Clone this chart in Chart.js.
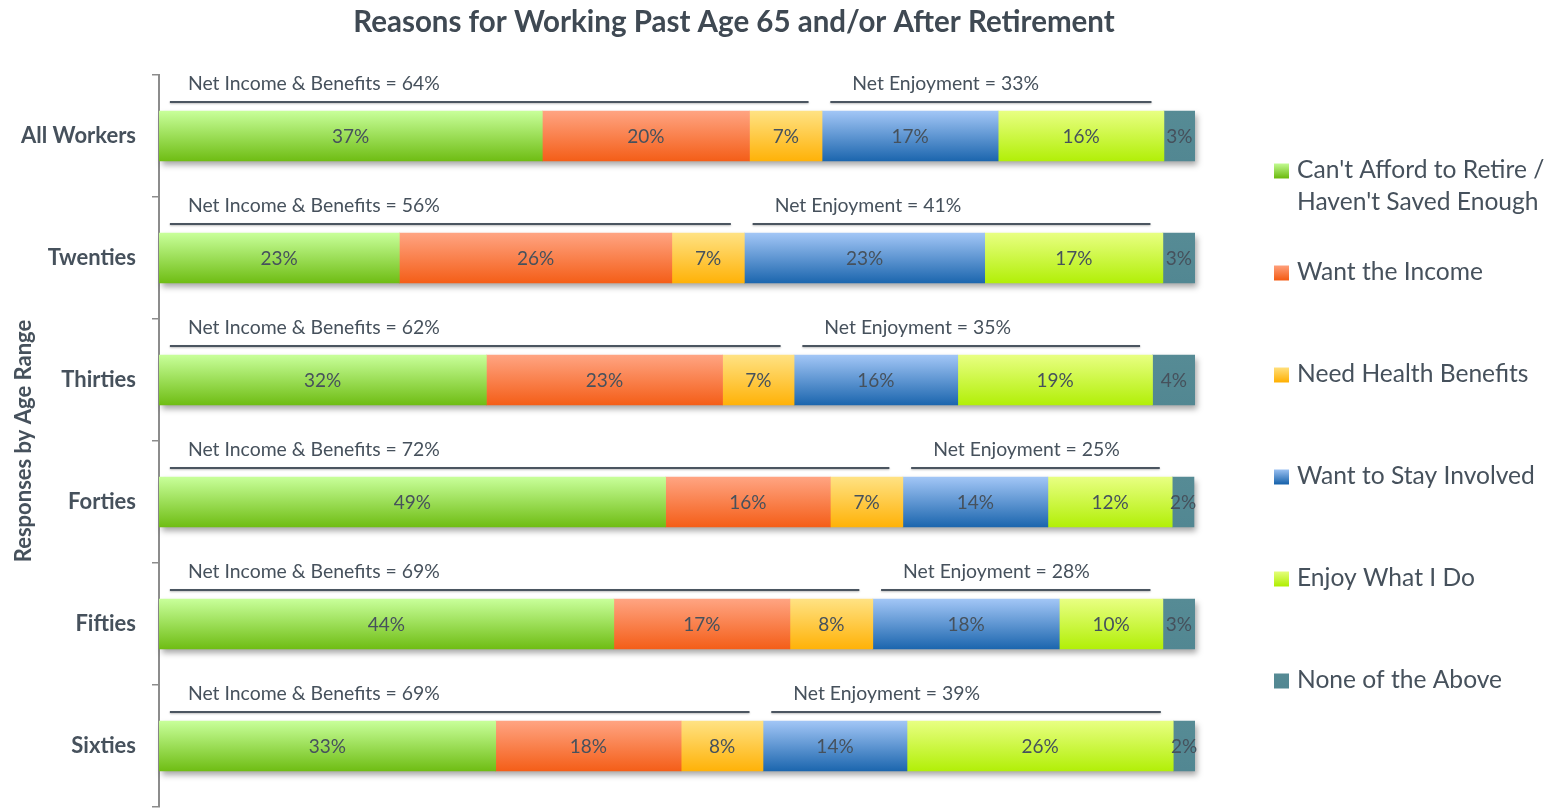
<!DOCTYPE html>
<html>
<head>
<meta charset="utf-8">
<script src="https://cdn.jsdelivr.net/npm/chart.js@4.4.1/dist/chart.umd.min.js"></script>
<style>
  html, body { margin: 0; padding: 0; background: #ffffff; }
  #wrap { position: relative; width: 1552px; height: 809px; }
</style>
</head>
<body>
<div id="wrap"><canvas id="c" width="1552" height="809"></canvas></div>
<script>
// ---------------- DATA ----------------
const categories = ['All Workers', 'Twenties', 'Thirties', 'Forties', 'Fifties', 'Sixties'];
const seriesNames = [
  ["Can't Afford to Retire /", "Haven't Saved Enough"],
  ['Want the Income'],
  ['Need Health Benefits'],
  ['Want to Stay Involved'],
  ['Enjoy What I Do'],
  ['None of the Above']
];
const cantAfford   = [37.0, 23.2, 31.6, 48.9, 43.9, 32.5];
const wantIncome   = [20.0, 26.3, 22.8, 15.9, 17.0, 17.9];
const healthBen    = [7.0, 7.0, 6.9, 7.0, 8.0, 7.9];
const stayInvolved = [17.0, 23.2, 15.8, 14.0, 18.0, 13.9];
const enjoyWork    = [16.0, 17.2, 18.8, 12.0, 10.0, 25.7];
const noneAbove    = [3.0, 3.1, 4.1, 2.1, 3.1, 2.1];
const netIncome    = [64, 56, 62, 72, 69, 69];
const netEnjoyment = [33, 41, 35, 25, 28, 39];
const chartTitle = 'Reasons for Working Past Age 65 and/or After Retirement';
const yTitle = 'Responses by Age Range';

// ---------------- STYLE ----------------
const FONT = 'Lato, "Open Sans", sans-serif';
const TEXT = '#46515c';
const gradStops = [
  ['#c8ff9a', '#6fbd14'],
  ['#ffa482', '#f45e18'],
  ['#ffe283', '#ffb208'],
  ['#a2c6f6', '#1c66ae'],
  ['#e8ff82', '#b2ef08'],
  ['#568b95', '#528792']
];
const seriesData = [cantAfford, wantIncome, healthBen, stayInvolved, enjoyWork, noneAbove];
const BAR_H = 50;

function gradFill(chart, y0, y1, i) {
  const g = chart.ctx.createLinearGradient(0, y0, 0, y1);
  g.addColorStop(0, gradStops[i][0]);
  g.addColorStop(1, gradStops[i][1]);
  return g;
}

const datasets = seriesData.map((d, i) => ({
  label: seriesNames[i].join(' '),
  data: d,
  barThickness: BAR_H,
  borderWidth: 0,
  backgroundColor: (ctx) => {
    const chart = ctx.chart;
    const ys = chart.scales && chart.scales.y;
    if (!ys || ctx.dataIndex === undefined) return gradStops[i][1];
    const yc = ys.getPixelForValue(ctx.dataIndex);
    if (!isFinite(yc)) return gradStops[i][1];
    return gradFill(chart, yc - BAR_H / 2, yc + BAR_H / 2, i);
  }
}));

// ---------------- PLUGINS ----------------
const decoPlugin = {
  id: 'deco',
  beforeDatasetsDraw(chart) {
    const { ctx, scales: { x, y } } = chart;
    ctx.save();
    categories.forEach((c, k) => {
      let total = 0;
      seriesData.forEach(s => total += s[k]);
      const yc = y.getPixelForValue(k);
      ctx.shadowColor = 'rgba(0,0,0,0.35)';
      ctx.shadowBlur = 6;
      ctx.shadowOffsetY = 4;
      ctx.shadowOffsetX = 2;
      ctx.fillStyle = '#ffffff';
      const x0 = x.getPixelForValue(0), x1 = x.getPixelForValue(total);
      ctx.fillRect(x0 + 1, yc - BAR_H / 2, x1 - x0 - 1, BAR_H);
    });
    ctx.restore();
  },
  afterDatasetsDraw(chart) {
    const { ctx, scales: { x, y } } = chart;
    ctx.save();
    // value labels
    ctx.font = '19px ' + FONT;
    ctx.fillStyle = TEXT;
    ctx.textAlign = 'center';
    ctx.textBaseline = 'middle';
    chart.data.datasets.forEach((ds, di) => {
      const meta = chart.getDatasetMeta(di);
      meta.data.forEach((el, k) => {
        const v = ds.data[k];
        ctx.fillText(Math.round(v) + '%', (el.x + el.base) / 2, el.y + 1);
      });
    });
    // net annotations
    categories.forEach((c, k) => {
      const cum3 = cantAfford[k] + wantIncome[k] + healthBen[k];
      const cum5 = cum3 + stayInvolved[k] + enjoyWork[k];
      const yc = y.getPixelForValue(k);
      const ly = yc - 34;
      const ty = yc - 52;
      ctx.save();
      ctx.strokeStyle = '#4b5560';
      ctx.lineWidth = 2;
      ctx.shadowColor = 'rgba(0,0,0,0.25)';
      ctx.shadowBlur = 2;
      ctx.shadowOffsetY = 1;
      const a0 = x.getPixelForValue(1.05), a1 = x.getPixelForValue(cum3 - 1.3);
      const b0 = x.getPixelForValue(cum3 + 0.8), b1 = x.getPixelForValue(cum5 - 1.2);
      ctx.beginPath(); ctx.moveTo(a0, ly); ctx.lineTo(a1, ly); ctx.stroke();
      ctx.beginPath(); ctx.moveTo(b0, ly); ctx.lineTo(b1, ly); ctx.stroke();
      ctx.restore();
      ctx.font = '19.4px ' + FONT;
      ctx.fillStyle = TEXT;
      ctx.textAlign = 'left';
      ctx.textBaseline = 'middle';
      ctx.fillText('Net Income & Benefits = ' + netIncome[k] + '%', a0 + 18, ty);
      ctx.fillText('Net Enjoyment = ' + netEnjoyment[k] + '%', b0 + 22, ty);
    });
    ctx.restore();
  },
  afterDraw(chart) {
    const { ctx } = chart;
    ctx.save();
    // title
    ctx.font = 'bold 29.5px ' + FONT;
    ctx.fillStyle = '#3f4953';
    ctx.textAlign = 'center';
    ctx.textBaseline = 'middle';
    ctx.fillText(chartTitle, 734, 22);
    // legend
    const lx = 1274, startY = 170, step = 102, box = 15;
    let yy = startY;
    seriesNames.forEach((lines, i) => {
      const g = gradFill(chart, yy - box / 2, yy + box / 2, i);
      ctx.fillStyle = g;
      ctx.fillRect(lx, yy - box / 2 + 1, box, box);
      ctx.font = '24.6px ' + FONT;
      ctx.fillStyle = TEXT;
      ctx.textAlign = 'left';
      ctx.textBaseline = 'middle';
      lines.forEach((t, j) => ctx.fillText(t, lx + 23, yy + j * 32));
      yy += step;
    });
    ctx.restore();
  }
};

// ---------------- CHART ----------------
new Chart(document.getElementById('c'), {
  type: 'bar',
  data: { labels: categories, datasets },
  options: {
    indexAxis: 'y',
    responsive: false,
    animation: false,
    layout: { padding: { top: 75, right: 357, bottom: 2, left: 0 } },
    plugins: {
      legend: { display: false },
      title: { display: false },
      tooltip: { enabled: false }
    },
    scales: {
      x: {
        stacked: true,
        display: false,
        min: 0,
        max: 100
      },
      y: {
        stacked: true,
        afterFit(scale) {
          scale.width = 159;
          scale.paddingTop = 0;
          scale.paddingBottom = 0;
        },
        grid: {
          offset: true,
          drawOnChartArea: false,
          drawTicks: true,
          tickLength: 7,
          color: '#8c8c8c',
          lineWidth: 1.5
        },
        border: { display: true, color: '#8c8c8c', width: 2 },
        ticks: {
          padding: 16,
          color: TEXT,
          font: { family: FONT, size: 22, weight: 'bold' }
        },
        title: {
          display: true,
          text: yTitle,
          color: TEXT,
          padding: { top: 11, bottom: 0 },
          font: { family: FONT, size: 22, weight: 'bold' }
        }
      }
    }
  },
  plugins: [decoPlugin]
});
</script>
</body>
</html>
